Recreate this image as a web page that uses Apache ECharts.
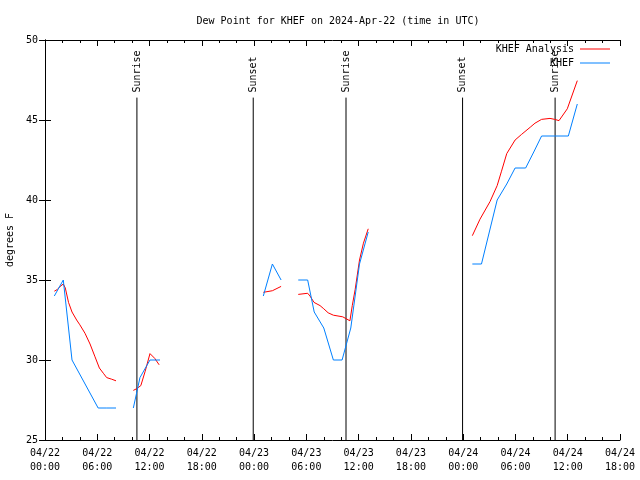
<!DOCTYPE html>
<html>
<head>
<meta charset="utf-8">
<script src="https://cdn.jsdelivr.net/npm/echarts@6/dist/echarts.min.js"></script>
<style>html,body{margin:0;padding:0;background:#fff}#c{width:640px;height:480px}</style>
</head>
<body>
<div id="c"></div>
<script>
// Hours since 2024-04-22 00:00 UTC; null separates gaps
const analysisHours = [1.07,1.4,1.75,2.1,2.33,2.7,3.1,3.63,4.0,4.59,5.17,5.74,6.24,6.7,7.08,7.65,8.15,null,
  10.14,10.5,11.0,11.5,12.05,12.6,13.1,null,
  25.06,26.1,27.1,null,
  29.07,30.15,30.42,30.88,31.57,32.0,32.5,33.1,34.17,35.0,35.27,35.6,36.1,36.55,37.1,null,
  49.05,49.93,51.08,51.9,52.4,53.0,53.96,54.7,55.7,56.24,57.0,57.97,58.5,59.0,59.95,61.1];
const analysisValues = [34.3,34.4,34.6,34.75,34.5,33.6,33.0,32.5,32.2,31.67,31.0,30.2,29.5,29.17,28.9,28.8,28.7,null,
  28.1,28.2,28.4,29.3,30.4,30.1,29.7,null,
  34.23,34.33,34.6,null,
  34.1,34.17,34.0,33.6,33.4,33.2,32.95,32.8,32.7,32.45,33.4,34.4,36.25,37.3,38.2,null,
  37.77,38.8,39.9,40.9,41.8,42.9,43.75,44.1,44.55,44.8,45.04,45.1,45.04,44.96,45.7,47.46];
const obsHours = [1.07,2.1,3.1,4.1,5.1,6.1,7.1,8.15,null,
  10.14,10.9,12.05,13.2,null,
  25.06,26.1,27.1,null,
  29.07,30.15,30.9,32.0,33.1,34.1,35.1,36.1,37.1,null,
  49.05,50.1,51.0,51.9,53.0,53.96,55.17,56.1,57.0,60.07,61.1];
const obsValues = [34,35,30,29,28,27,27,27,null,
  27,28.9,30,30,null,
  34,36,35,null,
  35,35,33,32,30,30,32,36,38,null,
  36,36,38,40,41,42,42,43,44,44,46];
const eventHours = [10.55, 23.9, 34.55, 47.93, 58.55];
const eventNames = ['Sunrise','Sunset','Sunrise','Sunset','Sunrise'];
const eventTop = 46.4;
const xTickLabels = ['04/22\n00:00','04/22\n06:00','04/22\n12:00','04/22\n18:00',
  '04/23\n00:00','04/23\n06:00','04/23\n12:00','04/23\n18:00',
  '04/24\n00:00','04/24\n06:00','04/24\n12:00','04/24\n18:00'];
const yTicks = [25,30,35,40,45,50];

const FONT = 'DejaVu Sans Mono';
const pair = (hs, vs) => hs.map((h, i) => h === null ? [null, null] : [h, vs[i]]);

const chart = echarts.init(document.getElementById('c'), null, {renderer: 'canvas'});
const axisCommon = {
  axisLine: {show: true, lineStyle: {color: '#000', width: 1}},
  splitLine: {show: false}
};
const series = [
  {name: 'KHEF Analysis', type: 'line', data: pair(analysisHours, analysisValues), showSymbol: false,
   connectNulls: false, lineStyle: {color: '#ff0000', width: 1}, itemStyle: {color: '#ff0000'}, animation: false, z: 3},
  {name: 'KHEF', type: 'line', data: pair(obsHours, obsValues), showSymbol: false,
   connectNulls: false, lineStyle: {color: '#0080ff', width: 1}, itemStyle: {color: '#0080ff'}, animation: false, z: 4}
];
eventHours.forEach((t, i) => {
  series.push({
    name: 'ev' + i, type: 'line', animation: false, symbol: 'circle', symbolSize: 0, showSymbol: true,
    lineStyle: {color: '#000', width: 1}, itemStyle: {color: '#000'}, z: 2,
    data: [[t, yTicks[0]], {value: [t, eventTop], label: {show: true, formatter: eventNames[i],
      position: 'top', distance: 5, rotate: 90, align: 'left', verticalAlign: 'middle',
      fontFamily: FONT, fontSize: 10, color: '#000'}}]
  });
});

chart.setOption({
  animation: false,
  backgroundColor: '#fff',
  title: {text: 'Dew Point for KHEF on 2024-Apr-22 (time in UTC)', left: 333, top: 11, textAlign: 'center',
    textStyle: {fontFamily: FONT, fontSize: 10, fontWeight: 'normal', color: '#000'}},
  grid: {left: 45, right: 20, top: 40, bottom: 40, containLabel: false, outerBoundsMode: 'none'},
  legend: {data: ['KHEF Analysis', 'KHEF'], orient: 'vertical', right: 25, top: 38, align: 'right',
    icon: 'rect', itemWidth: 30, itemHeight: 1, itemGap: 2,
    textStyle: {fontFamily: FONT, fontSize: 10, color: '#000', lineHeight: 12, padding: [0, 1, 0, 0]}},
  xAxis: [
    Object.assign({type: 'value', min: 0, max: 66, interval: 6, position: 'bottom',
      axisTick: {show: true, inside: true, length: 6, lineStyle: {color: '#000'}},
      minorTick: {show: true, splitNumber: 3, length: 3, lineStyle: {color: '#000'}},
      axisLabel: {margin: 6, fontFamily: FONT, fontSize: 10, color: '#000', lineHeight: 14,
        formatter: v => xTickLabels[Math.round(v / 6)]}}, axisCommon),
    Object.assign({type: 'value', min: 0, max: 66, interval: 6, position: 'top',
      axisTick: {show: true, inside: true, length: 6, lineStyle: {color: '#000'}},
      minorTick: {show: true, splitNumber: 3, length: 3, lineStyle: {color: '#000'}},
      axisLabel: {show: false}}, axisCommon)
  ],
  yAxis: [
    Object.assign({type: 'value', min: 25, max: 50, interval: 5, position: 'left',
      name: 'degrees F', nameLocation: 'middle', nameGap: 29, nameRotate: 90,
      nameTextStyle: {fontFamily: FONT, fontSize: 10, color: '#000'},
      axisTick: {show: true, inside: true, length: 6, lineStyle: {color: '#000'}},
      axisLabel: {margin: 7, fontFamily: FONT, fontSize: 10, color: '#000'}}, axisCommon),
    Object.assign({type: 'value', min: 25, max: 50, interval: 5, position: 'right',
      axisTick: {show: true, inside: true, length: 6, lineStyle: {color: '#000'}},
      axisLabel: {show: false}}, axisCommon)
  ],
  series: series
});
</script>
</body>
</html>
